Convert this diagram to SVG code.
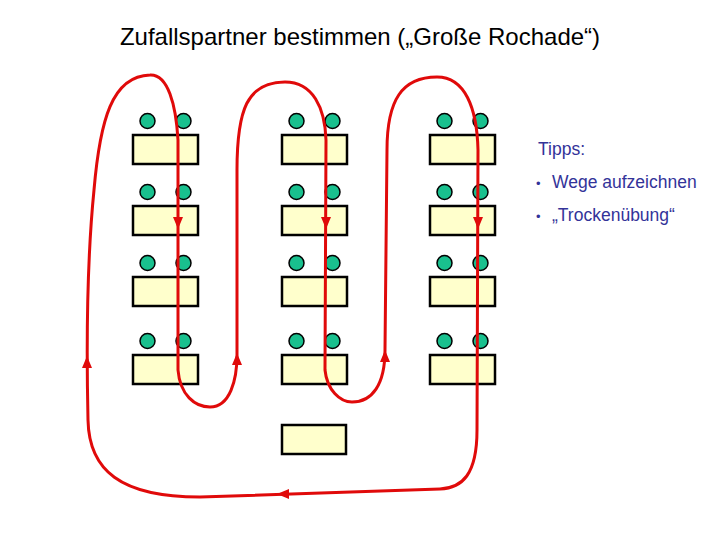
<svg xmlns="http://www.w3.org/2000/svg" width="720" height="540" viewBox="0 0 720 540">
<style>
.t{fill:#ffffcc;stroke:#000;stroke-width:2.5}
.s{fill:#19c08e;stroke:#000;stroke-width:1.5}
.path{fill:none;stroke:#e00a0a;stroke-width:3}
.tip{fill:#e00a0a}
.tx{font-family:"Liberation Sans",Arial,sans-serif}
</style>
<defs>
<polygon id="ah" class="tip" points="0,0 -5,12 5,12"/>
<g id="unit">
<circle class="s" cx="14.5" cy="-14" r="7.5"/>
<circle class="s" cx="50.5" cy="-14" r="7.5"/>
<rect class="t" x="0" y="0" width="65" height="29"/>
</g>
</defs>
<rect width="720" height="540" fill="#fff"/>
<text class="tx" x="360" y="45" font-size="24" text-anchor="middle" fill="#000">Zufallspartner bestimmen („Große Rochade“)</text>
<g id="col1">
<use href="#unit" x="133" y="135"/>
<use href="#unit" x="133" y="206"/>
<use href="#unit" x="133" y="277"/>
<use href="#unit" x="133" y="355"/>
</g>
<g id="col2">
<use href="#unit" x="282" y="135"/>
<use href="#unit" x="282" y="206"/>
<use href="#unit" x="282" y="277"/>
<use href="#unit" x="282" y="355"/>
</g>
<g id="col3">
<use href="#unit" x="430" y="135"/>
<use href="#unit" x="430" y="206"/>
<use href="#unit" x="430" y="277"/>
<use href="#unit" x="430" y="355"/>
</g>
<g id="extra">
<rect class="t" x="282" y="425" width="64" height="29"/>
</g>
<g id="connectors">
<path class="path" d="M 88,420 C 86,330 88,250 94,190 C 100,120 112,76 150,75 C 168,74 176,105 178,140 L 178,370 C 180,395 195,407 210,407 C 230,407 237,380 237,355 L 237,170 C 237,110 247,82 285,82 C 313,82 325,108 326,140 L 325,370 C 327,390 340,402 352,402 C 372,402 385,385 385,350 L 387,150 C 387,100 402,77 437,77 C 465,77 477,108 478,150 L 477,430 C 477,475 462,488 440,489 L 200,497 C 120,497 89,470 88,420 Z"/>
<use href="#ah" transform="translate(178,229) rotate(180)"/>
<use href="#ah" transform="translate(326,229) rotate(180)"/>
<use href="#ah" transform="translate(478,229) rotate(180)"/>
<use href="#ah" transform="translate(237,353)"/>
<use href="#ah" transform="translate(385,350)"/>
<use href="#ah" transform="translate(87,356)"/>
<use href="#ah" transform="translate(277,494) rotate(-90)"/>
</g>
<g id="tips" class="tx" fill="#333399" font-size="17.5">
<text x="538" y="155">Tipps:</text>
<text x="536" y="188" font-size="13">•</text><text x="552" y="188">Wege aufzeichnen</text>
<text x="536" y="221" font-size="13">•</text><text x="552" y="221">„Trockenübung“</text>
</g>
</svg>
